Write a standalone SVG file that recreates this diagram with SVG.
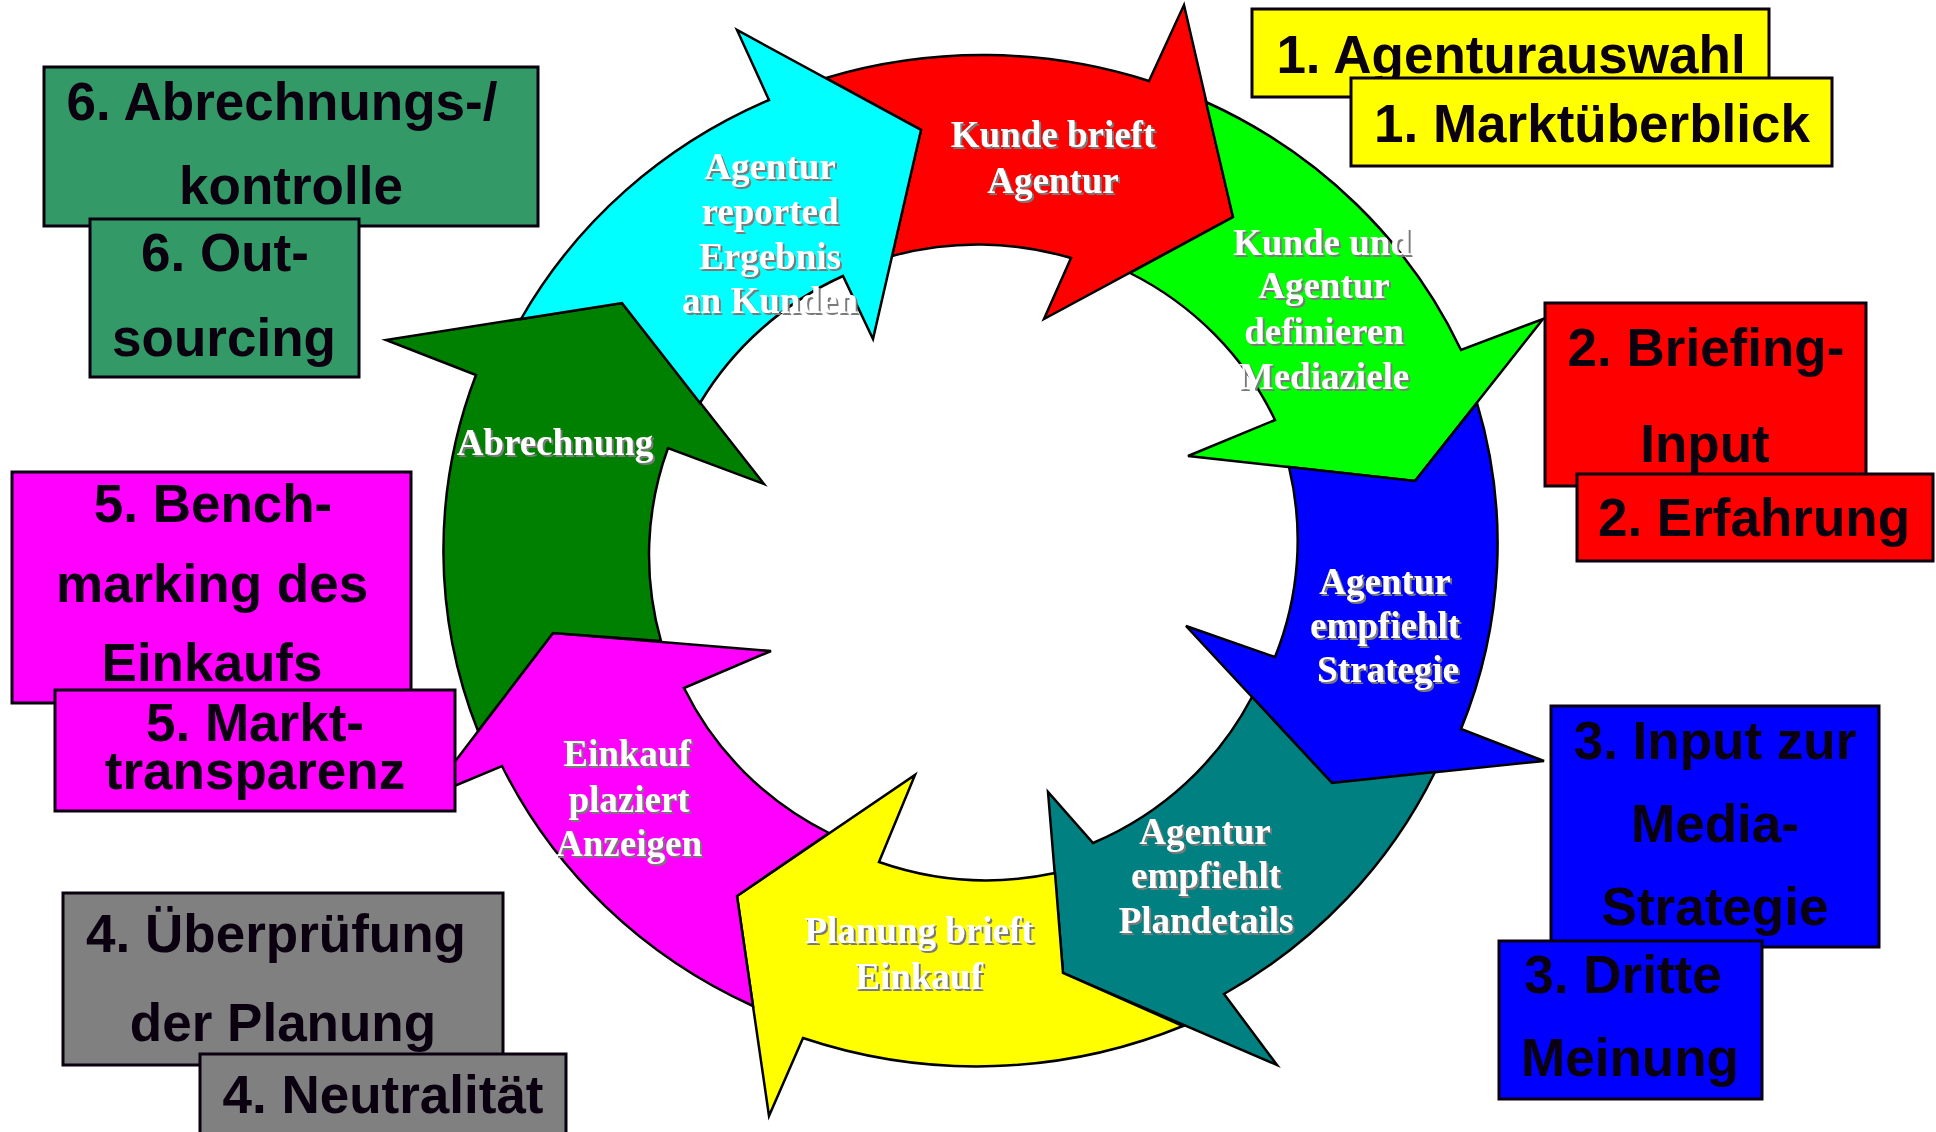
<svg xmlns="http://www.w3.org/2000/svg" width="1936" height="1132" viewBox="0 0 1936 1132">
<defs>
<style>
.arr{stroke:#000;stroke-width:2.5;stroke-linejoin:miter}
.box{stroke:#0a0010;stroke-width:3}
.bt{font-family:"Liberation Sans",Arial,sans-serif;font-weight:bold;font-size:53px;fill:#0a0010;text-anchor:middle}
.at{font-family:"Liberation Serif","Times New Roman",serif;font-weight:bold;font-size:37px;text-anchor:middle;fill:#fff;filter:url(#ts)}
</style>
<filter id="ts" x="-10%" y="-20%" width="120%" height="150%">
<feFlood flood-color="#7a7a7a"/>
<feComposite in2="SourceAlpha" operator="in"/>
<feOffset dx="2" dy="2"/>
<feMerge><feMergeNode/><feMergeNode in="SourceGraphic"/></feMerge>
</filter>
</defs>
<rect width="1936" height="1132" fill="#fff"/>

<g id="arrows">
<g id="arrow-red">
<path class="arr" fill="#FF0000" d="M826,78 A527,507 0 0 1 1149,81 L1184,5 L1233,217 L1044,319 L1071,258 A322,317 0 0 0 892,256 L921,130 Z"/>
<text class="at"><tspan x="1053" y="147">Kunde brieft</tspan><tspan x="1053" y="193">Agentur</tspan></text>
</g>
<g id="arrow-green">
<path class="arr" fill="#00FF00" d="M1206,102 A527,507 0 0 1 1461,350 L1543,319 L1415,481 L1188,456 L1275,420 A322,317 0 0 0 1130,273 L1233,217 Z"/>
<text class="at"><tspan x="1322" y="255">Kunde und</tspan><tspan x="1324" y="298">Agentur</tspan><tspan x="1324" y="344">definieren</tspan><tspan x="1324" y="389">Mediaziele</tspan></text>
</g>
<g id="arrow-blue">
<path class="arr" fill="#0000FF" d="M1477,403 A527,507 0 0 1 1461,729 L1544,761 L1332,783 L1186,626 L1275,657 A322,317 0 0 0 1289,467 L1415,481 Z"/>
<text class="at"><tspan x="1385" y="594">Agentur</tspan><tspan x="1385" y="638">empfiehlt</tspan><tspan x="1388" y="682">Strategie</tspan></text>
</g>
<g id="arrow-teal">
<path class="arr" fill="#008080" d="M1435,772 A527,507 0 0 1 1224,994 L1277,1065 L1063,973 L1048,792 L1093,843 A322,317 0 0 0 1252,697 L1332,783 Z"/>
<text class="at"><tspan x="1205" y="844">Agentur</tspan><tspan x="1206" y="888">empfiehlt</tspan><tspan x="1206" y="933">Plandetails</tspan></text>
</g>
<g id="arrow-yellow">
<path class="arr" fill="#FFFF00" d="M1183,1026 A527,507 0 0 1 803,1038 L769,1116 L737,896 L915,775 L879,862 A322,317 0 0 0 1055,873 L1063,973 Z"/>
<text class="at"><tspan x="919" y="943">Planung brieft</tspan><tspan x="919" y="989">Einkauf</tspan></text>
</g>
<g id="arrow-magenta">
<path class="arr" fill="#FF00FF" d="M753,1006 A527,507 0 0 1 502,766 L428,797 L553,633 L771,651 L684,688 A322,317 0 0 0 829,833 L737,896 Z"/>
<text class="at"><tspan x="627" y="766">Einkauf</tspan><tspan x="629" y="812">plaziert</tspan><tspan x="629" y="856">Anzeigen</tspan></text>
</g>
<g id="arrow-darkgreen">
<path class="arr" fill="#008000" d="M478,731 A527,507 0 0 1 476,375 L386,340 L622,303 L764,484 L668,448 A322,317 0 0 0 661,641 L553,633 Z"/>
<text class="at"><tspan x="555" y="455">Abrechnung</tspan></text>
</g>
<g id="arrow-cyan">
<path class="arr" fill="#00FFFF" d="M521,319 A527,507 0 0 1 769,100 L737,30 L921,130 L873,339 L843,276 A322,317 0 0 0 700,403 L622,303 Z"/>
<text class="at"><tspan x="770" y="179">Agentur</tspan><tspan x="770" y="224">reported</tspan><tspan x="770" y="269">Ergebnis</tspan><tspan x="770" y="313">an Kunden</tspan></text>
</g>
</g>

<g id="connectors"></g>

<g id="box-1a"><rect class="box" fill="#FFFF00" x="1252" y="9" width="517" height="88"/><text class="bt" x="1511" y="73">1. Agenturauswahl</text></g>
<g id="box-1b"><rect class="box" fill="#FFFF00" x="1351" y="78" width="481" height="88"/><text class="bt" x="1592" y="142">1. Marktüberblick</text></g>

<g id="box-2a"><rect class="box" fill="#FF0000" x="1545" y="303" width="321" height="183"/><text class="bt"><tspan x="1706" y="366">2. Briefing-</tspan><tspan x="1705" y="462">Input</tspan></text></g>
<g id="box-2b"><rect class="box" fill="#FF0000" x="1577" y="474" width="356" height="87"/><text class="bt" x="1754" y="536">2. Erfahrung</text></g>

<g id="box-3a"><rect class="box" fill="#0000FF" x="1551" y="706" width="328" height="241"/><text class="bt"><tspan x="1715" y="759">3. Input zur</tspan><tspan x="1715" y="842">Media-</tspan><tspan x="1715" y="925">Strategie</tspan></text></g>
<g id="box-3b"><rect class="box" fill="#0000FF" x="1499" y="941" width="263" height="158"/><text class="bt"><tspan x="1623" y="993">3. Dritte</tspan><tspan x="1630" y="1076">Meinung</tspan></text></g>

<g id="box-6a"><rect class="box" fill="#339966" x="44" y="67" width="494" height="159"/><text class="bt"><tspan x="282" y="120">6. Abrechnungs-/</tspan><tspan x="291" y="204">kontrolle</tspan></text></g>
<g id="box-6b"><rect class="box" fill="#339966" x="90" y="219" width="269" height="158"/><text class="bt"><tspan x="225" y="271">6. Out-</tspan><tspan x="224" y="356">sourcing</tspan></text></g>

<g id="box-5a"><rect class="box" fill="#FF00FF" x="12" y="472" width="399" height="231"/><text class="bt"><tspan x="213" y="522">5. Bench-</tspan><tspan x="212" y="602">marking des</tspan><tspan x="212" y="681">Einkaufs</tspan></text></g>
<g id="box-5b"><rect class="box" fill="#FF00FF" x="55" y="690" width="400" height="121"/><text class="bt"><tspan x="255" y="741">5. Markt-</tspan><tspan x="255" y="789">transparenz</tspan></text></g>

<g id="box-4a"><rect class="box" fill="#808080" x="63" y="893" width="440" height="172"/><text class="bt"><tspan x="276" y="952">4. Überprüfung</tspan><tspan x="283" y="1041">der Planung</tspan></text></g>
<g id="box-4b"><rect class="box" fill="#808080" x="200" y="1054" width="366" height="90"/><text class="bt" x="383" y="1113">4. Neutralität</text></g>
</svg>
